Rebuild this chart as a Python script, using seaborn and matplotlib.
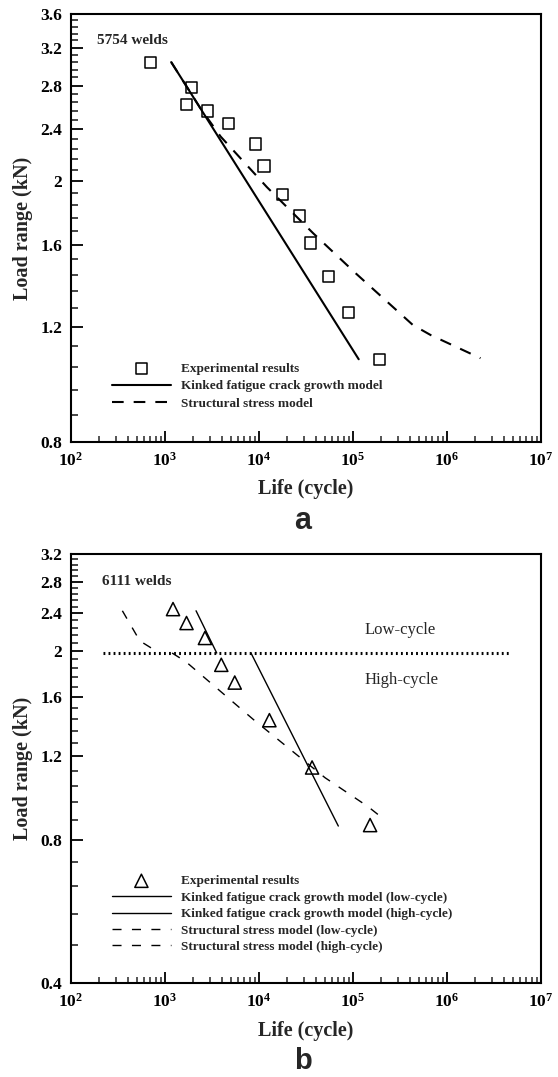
import numpy as np
import pandas as pd
import matplotlib
matplotlib.use("Agg")
import matplotlib.pyplot as plt
import seaborn as sns
from matplotlib.ticker import MultipleLocator, LogLocator, NullFormatter

# ---------------- data (a) 5754 welds ----------------
a_exp_life = [701, 1913, 1707, 2860, 4730, 9100, 11300, 17700, 27000, 35200, 54800, 89300, 191000]
a_exp_load = [3.04, 2.78, 2.62, 2.56, 2.45, 2.28, 2.11, 1.91, 1.77, 1.61, 1.43, 1.26, 1.07]
a_kinked_life = [1164, 115000]
a_kinked_load = [3.04, 1.07]
a_struct_life = [1164, 2400, 3910, 12100, 37700, 107000, 433000, 670000, 2270000]
a_struct_load = [3.04, 2.58, 2.34, 1.96, 1.666, 1.447, 1.207, 1.165, 1.074]
a_yticks = [0.8, 1.2, 1.6, 2.0, 2.4, 2.8, 3.2, 3.6]
a_yticklabels = ["0.8", "1.2", "1.6", "2", "2.4", "2.8", "3.2", "3.6"]

# ---------------- data (b) 6111 welds ----------------
b_exp_life = [1217, 1694, 2660, 3970, 5520, 12900, 36700, 152000]
b_exp_load = [2.45, 2.29, 2.13, 1.87, 1.716, 1.43, 1.137, 0.86]
b_kinked_low_life = [2140, 3550]
b_kinked_low_load = [2.43, 1.98]
b_kinked_high_life = [8220, 69800]
b_kinked_high_load = [1.98, 0.856]
b_struct_low_life = [352, 540, 870]
b_struct_low_load = [2.43, 2.10, 1.98]
b_struct_high_life = [1190, 1660, 8700, 50400, 145000, 213000]
b_struct_high_load = [1.98, 1.90, 1.435, 1.082, 0.94, 0.885]
b_boundary_life = [221, 4550000]
b_boundary_load = [1.98, 1.98]
b_yticks = [0.4, 0.8, 1.2, 1.6, 2.0, 2.4, 2.8, 3.2]
b_yticklabels = ["0.4", "0.8", "1.2", "1.6", "2", "2.4", "2.8", "3.2"]

x_exponents = [2, 3, 4, 5, 6, 7]
x_ticklabels = [f"$10^{{{e}}}$" for e in x_exponents]

# ---------------- style ----------------
sns.set_style("ticks")
plt.rcParams["font.family"] = ["Liberation Serif", "DejaVu Serif"]
plt.rcParams["font.weight"] = "bold"
plt.rcParams["mathtext.fontset"] = "custom"
plt.rcParams["mathtext.rm"] = "Liberation Serif:bold"
plt.rcParams["mathtext.bf"] = "Liberation Serif:bold"
plt.rcParams["mathtext.it"] = "Liberation Serif:bold"
plt.rcParams["mathtext.default"] = "rm"

W, H = 558, 1077
fig = plt.figure(figsize=(W / 100, H / 100), dpi=100)
fig.patch.set_facecolor("white")

ax_a = fig.add_axes([71 / W, (H - 442) / H, 470 / W, 428 / H])
ax_b = fig.add_axes([71 / W, (H - 983) / H, 470 / W, 429 / H])


def style_axes(ax, ylim, yticks, ylabels):
    ax.set_xscale("log")
    ax.set_yscale("log")
    ax.set_xlim(1e2, 1e7)
    ax.set_ylim(*ylim)
    ax.set_xticks([10.0 ** e for e in x_exponents], x_ticklabels)
    ax.xaxis.set_minor_locator(LogLocator(base=10, subs=np.arange(2, 10), numticks=50))
    ax.xaxis.set_minor_formatter(NullFormatter())
    ax.set_yticks(yticks, ylabels)
    ax.yaxis.set_minor_locator(MultipleLocator(0.08))
    ax.yaxis.set_minor_formatter(NullFormatter())
    for s in ax.spines.values():
        s.set_linewidth(1.5)
        s.set_color("black")
    ax.tick_params(which="major", direction="in", width=1.3, colors="black",
                   labelsize=12.5, top=False, right=False)
    ax.tick_params(axis="y", which="major", length=8.5, pad=6.5)
    ax.tick_params(axis="x", which="major", length=8, pad=7)
    ax.tick_params(axis="y", which="minor", direction="in", length=5, width=1.2, right=False)
    ax.tick_params(axis="x", which="minor", direction="in", length=4.3, width=1.1, top=False)
    for lab in ax.get_xticklabels() + ax.get_yticklabels():
        lab.set_fontweight("bold")
    ax.set_xlabel("Life (cycle)", fontsize=14.5, fontweight="bold")
    ax.set_ylabel("Load range (kN)", fontsize=14.5, fontweight="bold")
    ax.grid(False)
    ax.set_facecolor("white")


# ---------------- plot (a) ----------------
sns.scatterplot(x=a_exp_life, y=a_exp_load, ax=ax_a, marker="s", s=64,
                facecolor="none", edgecolor="black", linewidth=1.1, zorder=3,
                label="Experimental results")
h_a_exp = ax_a.collections[-1]
sns.lineplot(x=a_kinked_life, y=a_kinked_load, ax=ax_a, sort=False, estimator=None,
             color="black", linewidth=1.5, label="Kinked fatigue crack growth model")
h_a_kink = ax_a.lines[-1]
sns.lineplot(x=a_struct_life, y=a_struct_load, ax=ax_a, sort=False, estimator=None,
             color="black", linewidth=1.5, linestyle=(0, (5.6, 4.8)),
             label="Structural stress model")
h_a_str = ax_a.lines[-1]

style_axes(ax_a, (0.8, 3.6), a_yticks, a_yticklabels)
ax_a.xaxis.set_label_coords(0.5, -0.086)
ax_a.yaxis.set_label_coords(-0.081, 0.5)
ax_a.text(0.0547, 0.929, "5754 welds", transform=ax_a.transAxes, fontsize=11,
          fontweight="bold", ha="left", va="baseline")
ax_a.legend([h_a_exp, h_a_kink, h_a_str],
            ["Experimental results", "Kinked fatigue crack growth model", "Structural stress model"],
            loc="upper left", bbox_to_anchor=(0.0866, 0.186), frameon=False,
            prop={"family": "Liberation Serif", "weight": "bold", "size": 9.5},
            handlelength=4.5, handletextpad=0.75, labelspacing=0.4,
            borderpad=0, borderaxespad=0, scatterpoints=1)

# ---------------- plot (b) ----------------
sns.scatterplot(x=b_exp_life, y=b_exp_load, ax=ax_b, marker="^", s=90,
                facecolor="none", edgecolor="black", linewidth=1.1, zorder=3,
                label="Experimental results")
h_b_exp = ax_b.collections[-1]
sns.lineplot(x=b_kinked_low_life, y=b_kinked_low_load, ax=ax_b, sort=False, estimator=None,
             color="black", linewidth=1.0, label="Kinked fatigue crack growth model (low-cycle)")
h_b_kl = ax_b.lines[-1]
sns.lineplot(x=b_kinked_high_life, y=b_kinked_high_load, ax=ax_b, sort=False, estimator=None,
             color="black", linewidth=1.0, label="Kinked fatigue crack growth model (high-cycle)")
h_b_kh = ax_b.lines[-1]
sns.lineplot(x=b_struct_low_life, y=b_struct_low_load, ax=ax_b, sort=False, estimator=None,
             color="black", linewidth=1.0, linestyle=(0, (6.5, 7.5)),
             label="Structural stress model (low-cycle)")
h_b_sl = ax_b.lines[-1]
sns.lineplot(x=b_struct_high_life, y=b_struct_high_load, ax=ax_b, sort=False, estimator=None,
             color="black", linewidth=1.0, linestyle=(0, (6.5, 7.5)),
             label="Structural stress model (high-cycle)")
h_b_sh = ax_b.lines[-1]
sns.lineplot(x=b_boundary_life, y=b_boundary_load, ax=ax_b, sort=False, estimator=None,
             color="black", linewidth=2.2, linestyle=(0, (0.6, 1.05)))

style_axes(ax_b, (0.4, 3.2), b_yticks, b_yticklabels)
ax_b.xaxis.set_label_coords(0.5, -0.088)
ax_b.yaxis.set_label_coords(-0.081, 0.5)
ax_b.text(0.0653, 0.9277, "6111 welds", transform=ax_b.transAxes, fontsize=11,
          fontweight="bold", ha="left", va="baseline")
ax_b.text(1.34e5, 2.175, "Low-cycle", fontsize=12, fontweight="normal", ha="left", va="baseline")
ax_b.text(1.34e5, 1.70, "High-cycle", fontsize=12, fontweight="normal", ha="left", va="baseline")
ax_b.legend([h_b_exp, h_b_kl, h_b_kh, h_b_sl, h_b_sh],
            ["Experimental results",
             "Kinked fatigue crack growth model (low-cycle)",
             "Kinked fatigue crack growth model (high-cycle)",
             "Structural stress model (low-cycle)",
             "Structural stress model (high-cycle)"],
            loc="upper left", bbox_to_anchor=(0.0866, 0.2517), frameon=False,
            prop={"family": "Liberation Serif", "weight": "bold", "size": 9.5},
            handlelength=4.5, handletextpad=0.75, labelspacing=0.32,
            borderpad=0, borderaxespad=0, scatterpoints=1)

# panel letters
fig.text(302.5 / W, (H - 529) / H, "a", fontsize=22, fontweight="bold",
         family=["Liberation Sans", "DejaVu Sans"], ha="center", va="baseline")
fig.text(302.5 / W, (H - 1069) / H, "b", fontsize=21, fontweight="bold",
         family=["Liberation Sans", "DejaVu Sans"], ha="center", va="baseline")

fig.savefig("out.png", dpi=100, facecolor="white")
